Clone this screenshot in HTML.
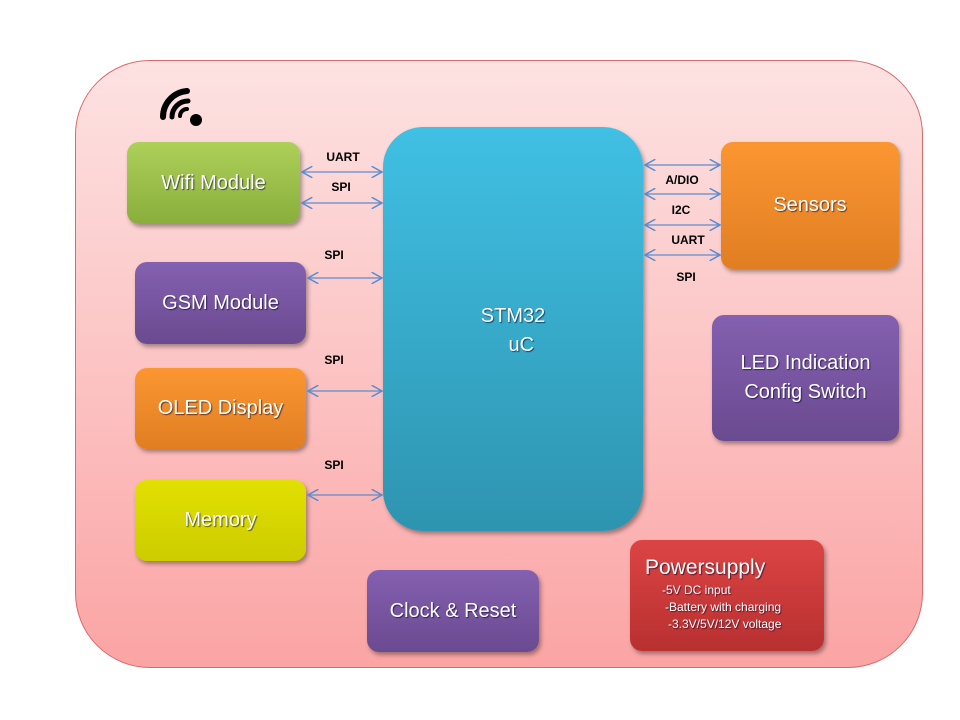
<!DOCTYPE html>
<html><head><style>
body{margin:0;width:960px;height:720px;background:#fff;position:relative;overflow:hidden;font-family:"Liberation Sans",sans-serif}
.o{position:absolute;left:75px;top:60px;width:846px;height:606px;border:1.5px solid #d96b6b;border-radius:75px;background:linear-gradient(#fde2e2,#fcc4c4 50%,#fba4a4)}
.b{position:absolute;border-radius:12px;color:#fff;display:flex;align-items:center;justify-content:center;text-align:center;font-size:20px;box-shadow:2px 3px 4px rgba(0,0,0,.35);text-shadow:1px 1px 1px rgba(0,0,40,.6);line-height:29px}
.l{position:absolute;font-size:12px;font-weight:bold;color:#000;transform:translate(-50%,-50%)}
</style></head><body>
<div class="o"></div>
<svg style="position:absolute;left:155px;top:85px" width="50" height="45" viewBox="0 0 50 45">
<path d="M8 32 A26 26 0 0 1 32 6" stroke="#000" stroke-width="6" fill="none" stroke-linecap="round"/>
<path d="M17 32 A16 16 0 0 1 33 16" stroke="#000" stroke-width="5" fill="none" stroke-linecap="round"/>
<path d="M25 31 A7 7 0 0 1 32 24" stroke="#000" stroke-width="4" fill="none" stroke-linecap="round"/>
<circle cx="41" cy="35" r="6" fill="#000"/>
</svg>
<div class="b" style="left:127px;top:142px;width:173px;height:82px;background:linear-gradient(#acd058,#8aae3c)">Wifi Module</div>
<div class="b" style="left:135px;top:262px;width:171px;height:82px;background:linear-gradient(#8460b0,#6a4a90)">GSM Module</div>
<div class="b" style="left:135px;top:368px;width:171px;height:81px;background:linear-gradient(#fb9632,#e07e22)">OLED Display</div>
<div class="b" style="left:135px;top:480px;width:171px;height:81px;background:linear-gradient(#e2e000,#cccc00)">Memory</div>
<div class="b" style="left:383px;top:127px;width:260px;height:404px;border-radius:40px;background:linear-gradient(#40c0e4,#2e94b0);align-items:flex-start;padding-top:175px;box-sizing:border-box"><div>STM32<br>&nbsp;&nbsp;&nbsp;uC</div></div>
<div class="b" style="left:721px;top:142px;width:178px;height:127px;background:linear-gradient(#fb9632,#e07e22)">Sensors</div>
<div class="b" style="left:712px;top:315px;width:187px;height:126px;background:linear-gradient(#8460b0,#6a4a90)">LED Indication<br>Config Switch</div>
<div class="b" style="left:367px;top:570px;width:172px;height:82px;background:linear-gradient(#8460b0,#6a4a90)">Clock &amp; Reset</div>
<div class="b" style="left:630px;top:540px;width:194px;height:111px;background:linear-gradient(#dc4444,#b83030);display:block;text-align:left;line-height:17px">
<div style="font-size:21px;margin:19px 0 6px 15px">Powersupply</div>
<div style="font-size:12px;margin-left:32px">-5V DC input</div>
<div style="font-size:12px;margin-left:35px">-Battery with charging</div>
<div style="font-size:12px;margin-left:38px">-3.3V/5V/12V voltage</div>
</div>
<svg style="position:absolute;left:0;top:0" width="960" height="720">
<defs><marker id="a" viewBox="0 0 10 10" refX="9" refY="5" markerWidth="9" markerHeight="9" orient="auto-start-reverse"><path d="M0 0L9 5L0 10" fill="none" stroke="#5b8cd0" stroke-width="1.3"/></marker></defs>
<g stroke="#5b8cd0" stroke-width="1.3" marker-start="url(#a)" marker-end="url(#a)">
<line x1="302" y1="172" x2="382" y2="172"/>
<line x1="302" y1="203" x2="382" y2="203"/>
<line x1="308" y1="278" x2="382" y2="278"/>
<line x1="308" y1="391" x2="382" y2="391"/>
<line x1="308" y1="495" x2="382" y2="495"/>
<line x1="645" y1="165" x2="720" y2="165"/>
<line x1="645" y1="194" x2="720" y2="194"/>
<line x1="645" y1="225" x2="720" y2="225"/>
<line x1="645" y1="255" x2="720" y2="255"/>
</g></svg>
<div class="l" style="left:343px;top:157px">UART</div>
<div class="l" style="left:341px;top:187px">SPI</div>
<div class="l" style="left:334px;top:255px">SPI</div>
<div class="l" style="left:334px;top:360px">SPI</div>
<div class="l" style="left:334px;top:465px">SPI</div>
<div class="l" style="left:682px;top:180px">A/DIO</div>
<div class="l" style="left:681px;top:210px">I2C</div>
<div class="l" style="left:688px;top:240px">UART</div>
<div class="l" style="left:686px;top:277px">SPI</div>
</body></html>
